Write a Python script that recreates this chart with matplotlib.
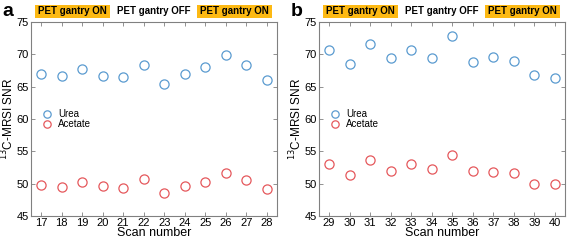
import matplotlib
matplotlib.use("Agg")
import matplotlib.pyplot as plt
from matplotlib.patches import Rectangle

scans_a = [17, 18, 19, 20, 21, 22, 23, 24, 25, 26, 27, 28]
urea_a = [67.0, 66.7, 67.7, 66.7, 66.5, 68.3, 65.4, 67.0, 68.1, 69.9, 68.3, 66.1]
acetate_a = [49.8, 49.5, 50.3, 49.6, 49.3, 50.7, 48.6, 49.6, 50.3, 51.7, 50.6, 49.2]

scans_b = [29, 30, 31, 32, 33, 34, 35, 36, 37, 38, 39, 40]
urea_b = [70.6, 68.5, 71.6, 69.5, 70.6, 69.5, 72.8, 68.8, 69.6, 69.0, 66.8, 66.4]
acetate_b = [53.0, 51.3, 53.7, 51.9, 53.0, 52.2, 54.4, 51.9, 51.85, 51.7, 49.9, 50.0]

yticks = [45, 50, 55, 60, 65, 70, 75]
states = ["PET gantry ON", "PET gantry OFF", "PET gantry ON"]
panel_labels = ["a", "b"]

plt.rcParams['font.family'] = ['Liberation Sans', 'DejaVu Sans']

fig = plt.figure(figsize=(5.67, 2.40), dpi=100)
blue = "#5b9bd0"
red = "#e5585c"
gold = "#fdb913"
spine_c = "#808080"

axes_specs = [
    (scans_a, urea_a, acetate_a, 30.7 / 567),
    (scans_b, urea_b, acetate_b, 318.7 / 567),
]

for i, (sc, u, ac, left) in enumerate(axes_specs):
    ax = fig.add_axes([left, 24 / 240, 246.6 / 567, 194 / 240])
    ax.plot(sc, u, 'o', mfc='none', mec=blue, ms=6.6, mew=0.9, label="Urea")
    ax.plot(sc, ac, 'o', mfc='none', mec=red, ms=6.6, mew=0.9, label="Acetate")
    ax.set_xlim(sc[0] - 0.5, sc[-1] + 0.5)
    ax.set_ylim(45, 75)
    ax.set_xticks(sc)
    ax.set_yticks(yticks)
    ax.tick_params(direction='in', top=True, right=True, length=3, width=0.6,
                   color=spine_c, labelsize=8, pad=1.5)
    for s in ax.spines.values():
        s.set_color(spine_c)
        s.set_linewidth(0.8)
    ax.set_xlabel("Scan number", fontsize=9, labelpad=-1)
    ax.set_ylabel(r"$^{13}$C-MRSI SNR", fontsize=8.5, va='center')
    ax.yaxis.set_label_coords(-0.092, 0.5)
    ax.legend(loc='upper left', bbox_to_anchor=(0.0, 0.585), frameon=False,
              fontsize=7, handletextpad=0.1, labelspacing=0.0,
              markerscale=0.8, borderaxespad=0.3)
    # state labels
    xform = ax.get_xaxis_transform()
    for x0 in (sc[0] - 0.29, sc[-1] - 3.41):
        ax.add_patch(Rectangle((x0, 1.021), 3.65, 0.067, transform=xform,
                               fc=gold, ec='none', clip_on=False))
    centers = [sc[0] + 1.53, (sc[0] + sc[-1]) / 2, sc[-1] - 1.58]
    for txt, cx in zip(states, centers):
        ax.text(cx, 1.056, txt, transform=xform, ha='center',
                va='center', fontsize=7, fontweight='bold')
    fig.text(left - 28 / 567, 1 - 12 / 240, panel_labels[i], fontsize=14,
             fontweight='bold', ha='left', va='center')

fig.savefig("out.png", dpi=100)
